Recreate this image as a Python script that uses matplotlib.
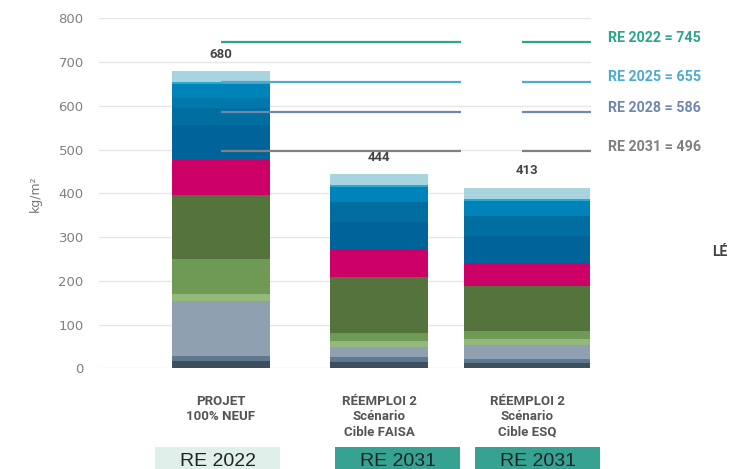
import numpy as np
import matplotlib
matplotlib.use("Agg")
import matplotlib.pyplot as plt
from matplotlib.patches import Rectangle

# scenarios and stacked components (kg/m2), bottom to top
categories = ["PROJET\n100% NEUF", "RÉEMPLOI 2\nScénario\nCible FAISA", "RÉEMPLOI 2\nScénario\nCible ESQ"]
totals = [680, 444, 413]
regles = ["RE 2022", "RE 2031", "RE 2031"]

dark_slate = [17, 15, 12]
slate = [11, 11, 9]
grey_blue = [126, 22, 32]
light_green = [15, 14, 13]
mid_green = [80, 18, 20]
dark_green = [147, 128, 101]
magenta = [80, 65, 53]
blue5 = [80, 62, 62]
blue4 = [38, 46, 45]
blue3 = [23, 0, 0]
blue2 = [33, 34, 36]
cyan = [5, 4, 4]
light_blue = [25, 25, 26]

seuils_labels = ["RE 2022", "RE 2025", "RE 2028", "RE 2031"]
seuils = [745, 655, 586, 496]

segments = [dark_slate, slate, grey_blue, light_green, mid_green, dark_green,
            magenta, blue5, blue4, blue3, blue2, cyan, light_blue]
colors = ["#3d4e5c", "#5f7890", "#8fa1b1", "#93b97b", "#6f9a55", "#55733d",
          "#cc0066", "#00649a", "#006f9f", "#0078ab", "#0083b9", "#29a9cf", "#a8d4e0"]
seuil_colors = ["#2ca58d", "#4bacd0", "#7088b0", "#808080"]

cond = dict(family="Roboto", fontstretch="condensed")

xpos = np.array([0.0, 1.0, 1.937])
widths = [0.62, 0.62, 0.80]

W, H = 734, 469
fig = plt.figure(figsize=(W / 100, H / 100), dpi=100)
ax = fig.add_axes([0.1349, 0.2147, 0.6703, 0.7464])

bottom = np.zeros(3)
for seg, col in zip(segments, colors):
    ax.bar(xpos, seg, width=widths, bottom=bottom, color=col, zorder=2)
    bottom += np.array(seg)

for x, t in zip(xpos, totals):
    ax.annotate(str(t), (x, t), xytext=(0, 12), textcoords="offset points",
                ha="center", va="center", fontsize=9.5, fontweight="bold",
                color="#444444", **cond)

# threshold lines
for lab, v, c in zip(seuils_labels, seuils, seuil_colors):
    ax.plot([0, 1.52], [v, v], color=c, lw=1.6, zorder=3, solid_capstyle="butt")
    ax.plot([1.905, 2.342], [v, v], color=c, lw=1.6, zorder=3, solid_capstyle="butt",
            clip_on=False)
    ax.text(2.45, v + 10, f"{lab} = {v}", color=c, fontsize=10.3, fontweight="bold",
            va="center", ha="left", **cond)

ax.set_xlim(-0.772, 2.342)
ax.set_ylim(0, 800)
ax.set_yticks(range(0, 801, 100))
ax.set_xticks([])
ax.grid(axis="y", color="#e6e6e6", lw=1, zorder=0)
ax.tick_params(axis="y", length=0, pad=11, labelsize=9.5, labelcolor="#808080")
for s in ax.spines.values():
    s.set_visible(False)
ax.set_ylabel("kg/m²", fontsize=9, color="#777777", labelpad=12)

# category labels
for x, cat in zip(xpos, categories):
    ax.annotate(cat, (x, 0), xytext=(0, -19), textcoords="offset points",
                ha="center", va="top", fontsize=9.5, fontweight="bold",
                color="#555555", linespacing=1.25, **cond)

# regulation boxes under the chart (pixel layout)
box_left = [155, 335, 475]
box_w = 125
for bx, reg in zip(box_left, regles):
    fc = "#dff0ea" if reg == "RE 2022" else "#36a392"
    fig.patches.append(Rectangle((bx / W, 0), box_w / W, 22 / H,
                                 transform=fig.transFigure, fc=fc, ec="none"))
    fig.text((bx + box_w / 2) / W, 8 / H, reg, ha="center", va="center",
             fontsize=14, color="#222222", family="Liberation Sans")

fig.text(712 / W, 1 - 252 / H, "LÉ", fontsize=10, fontweight="bold",
         color="#444444", va="center", **cond)

fig.savefig("out.png", dpi=100)
